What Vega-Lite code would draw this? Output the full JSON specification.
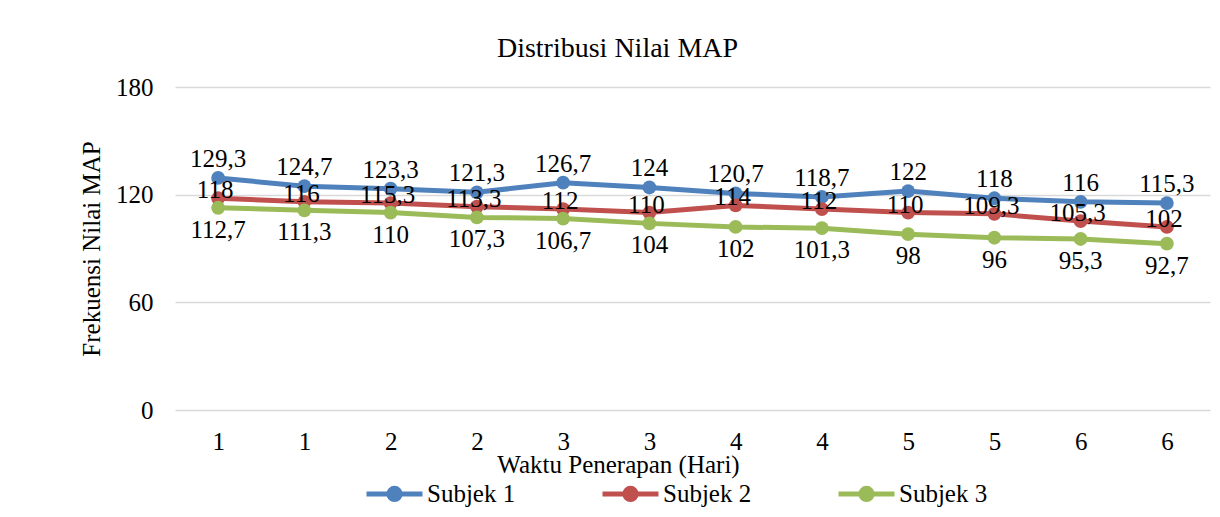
{
  "$schema": "https://vega.github.io/schema/vega-lite/v6.json",
  "width": 1035,
  "height": 323,
  "autosize": "none",
  "padding": {"left": 175, "top": 87, "right": 10, "bottom": 107},
  "config": {
    "font": "Liberation Serif",
    "view": {"stroke": null},
    "locale": {"number": {"decimal": ",", "thousands": ".", "grouping": [3], "currency": ["", ""]}}
  },
  "title": {"text": "Distribusi Nilai MAP", "fontSize": 28, "fontWeight": "normal", "color": "#000000", "anchor": "middle", "frame": "group", "dx": -75, "offset": 12},
  "data": {"values": [
    {"obs": 1, "subjek": "Subjek 1", "map": 129.3},
    {"obs": 2, "subjek": "Subjek 1", "map": 124.7},
    {"obs": 3, "subjek": "Subjek 1", "map": 123.3},
    {"obs": 4, "subjek": "Subjek 1", "map": 121.3},
    {"obs": 5, "subjek": "Subjek 1", "map": 126.7},
    {"obs": 6, "subjek": "Subjek 1", "map": 124},
    {"obs": 7, "subjek": "Subjek 1", "map": 120.7},
    {"obs": 8, "subjek": "Subjek 1", "map": 118.7},
    {"obs": 9, "subjek": "Subjek 1", "map": 122},
    {"obs": 10, "subjek": "Subjek 1", "map": 118},
    {"obs": 11, "subjek": "Subjek 1", "map": 116},
    {"obs": 12, "subjek": "Subjek 1", "map": 115.3},
    {"obs": 1, "subjek": "Subjek 2", "map": 118},
    {"obs": 2, "subjek": "Subjek 2", "map": 116},
    {"obs": 3, "subjek": "Subjek 2", "map": 115.3},
    {"obs": 4, "subjek": "Subjek 2", "map": 113.3},
    {"obs": 5, "subjek": "Subjek 2", "map": 112},
    {"obs": 6, "subjek": "Subjek 2", "map": 110},
    {"obs": 7, "subjek": "Subjek 2", "map": 114},
    {"obs": 8, "subjek": "Subjek 2", "map": 112},
    {"obs": 9, "subjek": "Subjek 2", "map": 110},
    {"obs": 10, "subjek": "Subjek 2", "map": 109.3},
    {"obs": 11, "subjek": "Subjek 2", "map": 105.3},
    {"obs": 12, "subjek": "Subjek 2", "map": 102},
    {"obs": 1, "subjek": "Subjek 3", "map": 112.7},
    {"obs": 2, "subjek": "Subjek 3", "map": 111.3},
    {"obs": 3, "subjek": "Subjek 3", "map": 110},
    {"obs": 4, "subjek": "Subjek 3", "map": 107.3},
    {"obs": 5, "subjek": "Subjek 3", "map": 106.7},
    {"obs": 6, "subjek": "Subjek 3", "map": 104},
    {"obs": 7, "subjek": "Subjek 3", "map": 102},
    {"obs": 8, "subjek": "Subjek 3", "map": 101.3},
    {"obs": 9, "subjek": "Subjek 3", "map": 98},
    {"obs": 10, "subjek": "Subjek 3", "map": 96},
    {"obs": 11, "subjek": "Subjek 3", "map": 95.3},
    {"obs": 12, "subjek": "Subjek 3", "map": 92.7}
  ]},
  "encoding": {
    "x": {
      "field": "obs", "type": "ordinal",
      "scale": {"type": "point", "padding": 0.5},
      "axis": {
        "title": "Waktu Penerapan (Hari)", "titleFontSize": 25, "titleFontWeight": "normal", "titleColor": "#000000",
        "titlePadding": -2, "titleX": 443,
        "labelExpr": "ceil(datum.value / 2)", "labelAngle": 0, "labelFontSize": 25, "labelColor": "#000000",
        "labelPadding": 19, "ticks": false, "domain": false, "grid": false
      }
    },
    "y": {
      "field": "map", "type": "quantitative",
      "scale": {"domain": [0, 180], "nice": false},
      "axis": {
        "title": "Frekuensi Nilai MAP", "titleFontSize": 25, "titleFontWeight": "normal", "titleColor": "#000000",
        "titlePadding": 11, "values": [0, 60, 120, 180], "labelFontSize": 25, "labelColor": "#000000",
        "labelPadding": 22, "ticks": false, "domain": false, "grid": true, "gridColor": "#d9d9d9", "gridWidth": 1.5
      }
    },
    "color": {
      "field": "subjek", "type": "nominal",
      "scale": {"domain": ["Subjek 1", "Subjek 2", "Subjek 3"], "range": ["#4F81BD", "#C0504D", "#9BBB59"]},
      "legend": {
        "title": null, "orient": "none", "legendX": 189, "legendY": 376, "direction": "horizontal",
        "gridAlign": "all",
        "labelFontSize": 25, "labelColor": "#000000", "labelOffset": 2, "columnPadding": 76,
        "symbolType": "M-1,0L1,0M-0.2,0A0.2,0.2,0,1,0,0.2,0A0.2,0.2,0,1,0,-0.2,0Z",
        "symbolSize": 3136, "symbolStrokeWidth": 5,
        "encode": {"symbols": {"update": {
          "fill": {"scale": "color", "field": "value"},
          "stroke": {"scale": "color", "field": "value"},
          "strokeWidth": {"value": 5},
          "opacity": {"value": 1}
        }}}
      }
    }
  },
  "layer": [
    {"mark": {"type": "line", "strokeWidth": 5}},
    {"mark": {"type": "point", "filled": true, "size": 190, "opacity": 1}},
    {
      "transform": [{"filter": "datum.subjek === 'Subjek 1'"}],
      "mark": {"type": "text", "dy": -19, "fontSize": 25, "baseline": "middle"},
      "encoding": {"text": {"field": "map", "type": "quantitative", "format": "~g"}, "color": {"value": "#000000"}}
    },
    {
      "transform": [{"filter": "datum.subjek === 'Subjek 2'"}],
      "mark": {"type": "text", "dy": -8, "dx": -3, "fontSize": 25, "baseline": "middle"},
      "encoding": {"text": {"field": "map", "type": "quantitative", "format": "~g"}, "color": {"value": "#000000"}}
    },
    {
      "transform": [{"filter": "datum.subjek === 'Subjek 3'"}],
      "mark": {"type": "text", "dy": 22, "fontSize": 25, "baseline": "middle"},
      "encoding": {"text": {"field": "map", "type": "quantitative", "format": "~g"}, "color": {"value": "#000000"}}
    }
  ]
}
